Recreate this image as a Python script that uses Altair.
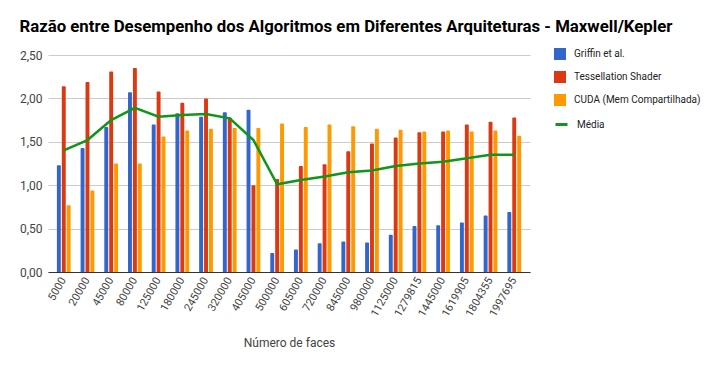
import altair as alt
import pandas as pd

faces = ["5000", "20000", "45000", "80000", "125000", "180000", "245000", "320000",
         "405000", "500000", "605000", "720000", "845000", "980000", "1125000",
         "1279815", "1445000", "1619905", "1804355", "1997695"]
griffin = [1.23, 1.43, 1.67, 2.07, 1.70, 1.83, 1.79, 1.84, 1.87, 0.22, 0.26, 0.33,
           0.35, 0.34, 0.43, 0.53, 0.54, 0.57, 0.65, 0.69]
tess = [2.14, 2.19, 2.31, 2.35, 2.08, 1.95, 2.00, 1.78, 1.00, 1.07, 1.22, 1.24,
        1.39, 1.48, 1.55, 1.61, 1.62, 1.70, 1.73, 1.78]
cuda = [0.77, 0.94, 1.25, 1.25, 1.56, 1.63, 1.65, 1.66, 1.66, 1.71, 1.67, 1.70,
        1.68, 1.65, 1.64, 1.62, 1.63, 1.62, 1.63, 1.57]
media = [1.40, 1.52, 1.75, 1.89, 1.79, 1.81, 1.82, 1.77, 1.52, 1.01, 1.06, 1.10,
         1.15, 1.17, 1.22, 1.25, 1.27, 1.31, 1.35, 1.35]

series = ["Griffin et al.", "Tessellation Shader", "CUDA (Mem Compartilhada)"]
colors = ["#3366CC", "#DC3912", "#FF9900"]

rows = []
for name, vals in zip(series, [griffin, tess, cuda]):
    for f, v in zip(faces, vals):
        rows.append({"faces": f, "serie": name, "valor": v})
bars_df = pd.DataFrame(rows)
line_df = pd.DataFrame({"faces": faces, "valor": media, "serie2": ["Média"] * len(faces)})

y_scale = alt.Scale(domain=[0, 2.5], nice=False, zero=True)

x_enc = alt.X("faces:N", sort=faces,
              scale=alt.Scale(paddingInner=0.42, paddingOuter=0.375),
              axis=alt.Axis(title="Número de faces", labelAngle=-60, labelFontSize=11,
                            labelColor="#444", tickSize=0, labelPadding=6,
                            domainColor="#333", titleFontSize=12, titleColor="#444",
                            titleFontWeight="normal", titlePadding=20))
y_enc = alt.Y("valor:Q", scale=y_scale, stack=None,
              axis=alt.Axis(title=None, values=[0, 0.5, 1, 1.5, 2, 2.5],
                            labelExpr="replace(format(datum.value, '.2f'), '.', ',')",
                            labelFontSize=12, labelColor="#444", tickSize=0,
                            labelPadding=6, domain=False, gridColor="#ccc"))

bars = alt.Chart(bars_df).mark_bar(cornerRadiusTopLeft=1, cornerRadiusTopRight=1).encode(
    x=x_enc,
    y=y_enc,
    xOffset=alt.XOffset("serie:N", sort=series, scale=alt.Scale(paddingInner=0.2)),
    color=alt.Color("serie:N", sort=series,
                    scale=alt.Scale(domain=series, range=colors),
                    legend=alt.Legend(title=None, orient="none", legendX=506, legendY=-7,
                                      symbolType="square", symbolSize=144,
                                      rowPadding=11, labelFontSize=10, labelColor="#222",
                                      labelOffset=8, symbolStrokeWidth=0)),
)

line = alt.Chart(line_df).mark_line(strokeWidth=2.5).encode(
    x=alt.X("faces:N", sort=faces),
    y=alt.Y("valor:Q", scale=y_scale),
    color=alt.Color("serie2:N", scale=alt.Scale(domain=["Média"], range=["#109618"]),
                    legend=alt.Legend(title=None, orient="none", legendX=506, legendY=62,
                                      symbolType="stroke", symbolSize=144,
                                      symbolStrokeWidth=3, labelFontSize=10,
                                      labelColor="#222", labelOffset=8)),
)

chart = alt.layer(bars, line).resolve_scale(color="independent").properties(
    width=482, height=217,
    padding={"left": 11, "top": 11, "right": 0, "bottom": 0},
    title=alt.TitleParams("Razão entre Desempenho dos Algoritmos em Diferentes Arquiteturas - Maxwell/Kepler",
                          anchor="start", frame="bounds", fontSize=16.8, fontWeight="bold",
                          color="#000", offset=12),
).configure(font="Roboto").configure_view(stroke=None)

chart.save("out.html", embed_options={"renderer": "svg", "actions": False})
